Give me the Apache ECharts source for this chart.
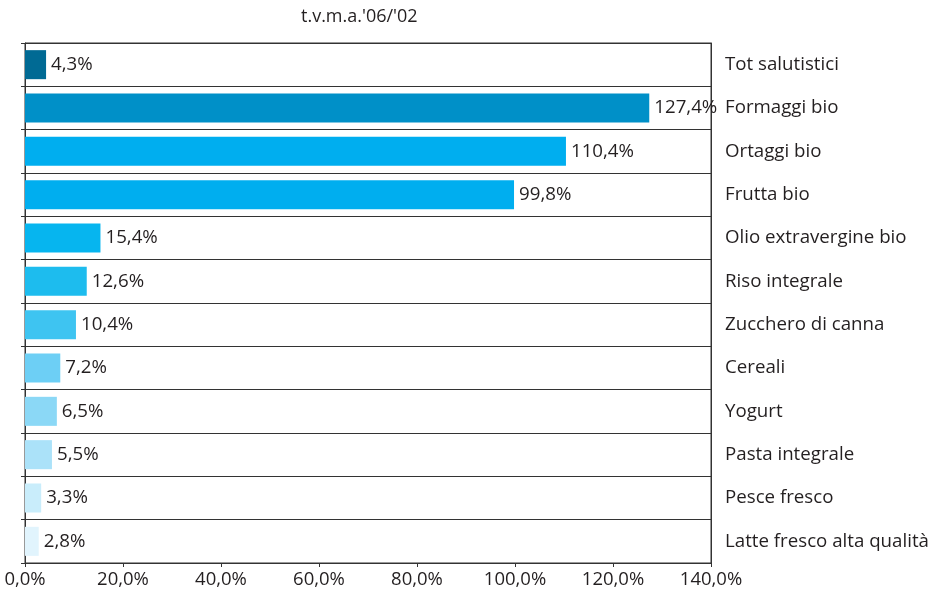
<!DOCTYPE html>
<html>
<head>
<meta charset="utf-8">
<script src="https://cdn.jsdelivr.net/npm/echarts@6/dist/echarts.min.js"></script>
<style>
  html, body { margin: 0; padding: 0; background: #fff; }
  #chart { width: 938px; height: 596px; }
</style>
</head>
<body>
<div id="chart"></div>
<script>
// Growth rate per product category (t.v.m.a. 2006/2002)
const categories = [
  'Tot salutistici', 'Formaggi bio', 'Ortaggi bio', 'Frutta bio',
  'Olio extravergine bio', 'Riso integrale', 'Zucchero di canna', 'Cereali',
  'Yogurt', 'Pasta integrale', 'Pesce fresco', 'Latte fresco alta qualità'
];
const growth = [4.3, 127.4, 110.4, 99.8, 15.4, 12.6, 10.4, 7.2, 6.5, 5.5, 3.3, 2.8];
const barColors = [
  '#006a94', '#0090c8', '#00aeef', '#00aeef', '#06b5ef', '#1dbcee',
  '#3ec4f1', '#6dcff5', '#8bd8f6', '#abe2f9', '#c9edfb', '#e1f4fd'
];
const xTicks = [0, 20, 40, 60, 80, 100, 120, 140];

const fmt = v => v.toFixed(1).replace('.', ',') + '%';
const FONT = '"Open Sans", "Noto Sans", sans-serif';
const TEXT = '#231f20';
const LINE = '#333333';

const chart = echarts.init(document.getElementById('chart'), null, { renderer: 'canvas' });
chart.setOption({
  animation: false,
  backgroundColor: '#ffffff',
  title: {
    text: "t.v.m.a.'06/'02",
    left: 296,
    top: 3,
    textStyle: { fontFamily: FONT, fontSize: 18, fontWeight: 'normal', color: TEXT }
  },
  grid: {
    left: 25, right: 227, top: 43, bottom: 33,
    show: true, borderColor: LINE, borderWidth: 1, backgroundColor: 'transparent'
  },
  xAxis: {
    type: 'value',
    min: xTicks[0],
    max: xTicks[xTicks.length - 1],
    interval: 20,
    axisLine: { show: true, lineStyle: { color: LINE } },
    axisTick: { show: true, length: 4, lineStyle: { color: LINE } },
    splitLine: { show: false },
    axisLabel: {
      formatter: v => fmt(v),
      fontFamily: FONT, fontSize: 18.5, color: TEXT, margin: 7
    }
  },
  yAxis: [
    {
      type: 'category',
      data: categories,
      inverse: true,
      position: 'left',
      axisLine: { show: true, lineStyle: { color: LINE } },
      axisTick: { show: true, length: 4, lineStyle: { color: LINE } },
      axisLabel: { show: false },
      splitLine: { show: true, lineStyle: { color: LINE, width: 1 } }
    },
    {
      type: 'category',
      data: categories,
      inverse: true,
      position: 'right',
      axisLine: { show: true, lineStyle: { color: LINE } },
      axisTick: { show: false },
      axisLabel: {
        show: true, margin: 14,
        fontFamily: FONT, fontSize: 18.7, color: TEXT
      },
      splitLine: { show: false }
    }
  ],
  series: [{
    type: 'bar',
    yAxisIndex: 0,
    data: growth.map((v, i) => ({ value: v, itemStyle: { color: barColors[i] } })),
    barCategoryGap: '33%',
    label: {
      show: true,
      position: 'right',
      distance: 5,
      formatter: p => fmt(p.value),
      fontFamily: FONT, fontSize: 18.7, color: TEXT
    }
  }]
});
</script>
</body>
</html>
